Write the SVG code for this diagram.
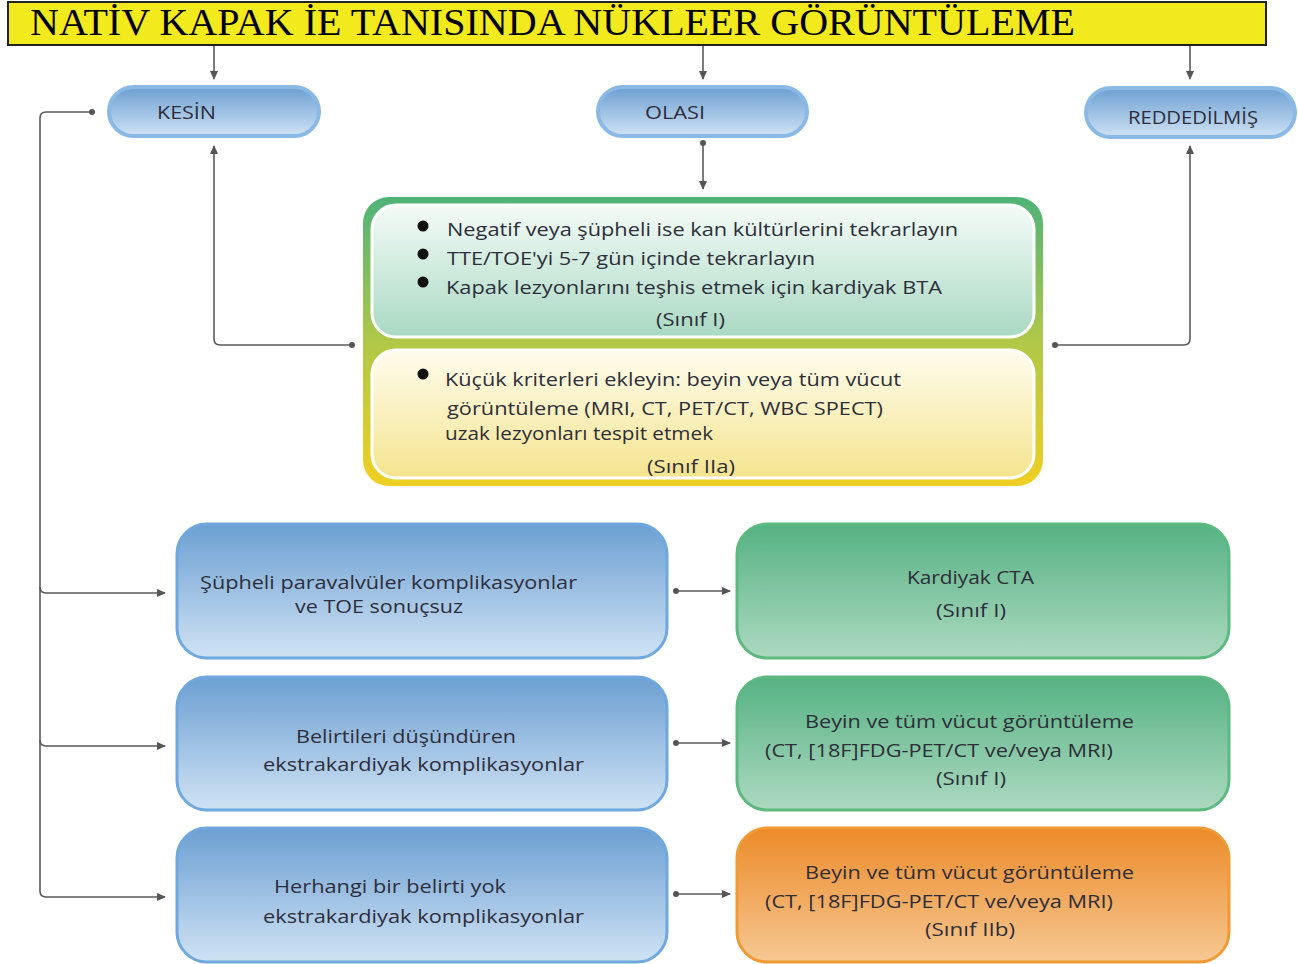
<svg xmlns="http://www.w3.org/2000/svg" width="1298" height="964" viewBox="0 0 1298 964">
<defs>
<linearGradient id="gBlue" x1="0" y1="0" x2="0" y2="1"><stop offset="0" stop-color="#6c9fd2"/><stop offset="1" stop-color="#cfe2f4"/></linearGradient>
<linearGradient id="gGreen" x1="0" y1="0" x2="0" y2="1"><stop offset="0" stop-color="#56b283"/><stop offset="1" stop-color="#acd9c0"/></linearGradient>
<linearGradient id="gOrange" x1="0" y1="0" x2="0" y2="1"><stop offset="0" stop-color="#ec8a28"/><stop offset="1" stop-color="#f6c893"/></linearGradient>
<linearGradient id="gOuter" x1="0" y1="0" x2="0" y2="1"><stop offset="0" stop-color="#4fb378"/><stop offset="0.5" stop-color="#b0c848"/><stop offset="1" stop-color="#f0cf22"/></linearGradient>
<linearGradient id="gTop" x1="0" y1="0" x2="0" y2="1"><stop offset="0" stop-color="#f4fbf7"/><stop offset="1" stop-color="#a9d9c3"/></linearGradient>
<linearGradient id="gBot" x1="0" y1="0" x2="0" y2="1"><stop offset="0" stop-color="#fffcee"/><stop offset="1" stop-color="#f4e48e"/></linearGradient>
<marker id="arr" markerWidth="10" markerHeight="10" refX="8" refY="5" orient="auto" markerUnits="userSpaceOnUse"><path d="M0,1 L9,5 L0,9 Z" fill="#555"/></marker>
<marker id="dot" markerWidth="8" markerHeight="8" refX="4" refY="4" markerUnits="userSpaceOnUse"><circle cx="4" cy="4" r="3" fill="#555"/></marker>
</defs>
<style>
.t{font-family:"Open Sans","Liberation Sans",sans-serif;font-size:19px;font-weight:500;fill:#2e2e3a}
.pill{fill:url(#gBlue);stroke:#8bb9e6;stroke-width:4}
.bbox{fill:url(#gBlue);stroke:#6fa8de;stroke-width:3}
.gbox{fill:url(#gGreen);stroke:#5cb97f;stroke-width:3}
.obox{fill:url(#gOrange);stroke:#f09a36;stroke-width:3}
.c{fill:none;stroke:#5a5a5a;stroke-width:1.6}
</style>
<rect width="1298" height="964" fill="#ffffff"/>

<g id="title">
<rect x="8" y="2" width="1258" height="43" fill="#f2ea1c" stroke="#222" stroke-width="2"/>
<text x="30" y="35" font-family="Liberation Serif, serif" font-size="37" fill="#000" textLength="1045" lengthAdjust="spacingAndGlyphs">NATİV KAPAK İE TANISINDA NÜKLEER GÖRÜNTÜLEME</text>
</g>

<g id="connectors">
<path class="c" d="M214,46 V79" marker-end="url(#arr)"/>
<path class="c" d="M703,46 V79" marker-end="url(#arr)"/>
<path class="c" d="M1190,46 V79" marker-end="url(#arr)"/>
<path class="c" d="M703,143 V189" marker-start="url(#dot)" marker-end="url(#arr)"/>
<path class="c" d="M352,345 H220 Q214,345 214,339 V146" marker-start="url(#dot)" marker-end="url(#arr)"/>
<path class="c" d="M1055,345 H1184 Q1190,345 1190,339 V146" marker-start="url(#dot)" marker-end="url(#arr)"/>
<path class="c" d="M92,112 H46 Q40,112 40,118 V891 Q40,897 46,897 H165" marker-start="url(#dot)" marker-end="url(#arr)"/>
<path class="c" d="M40,587 Q40,593 46,593 H165" marker-end="url(#arr)"/>
<path class="c" d="M40,740 Q40,746 46,746 H165" marker-end="url(#arr)"/>
<path class="c" d="M676,591 H730" marker-start="url(#dot)" marker-end="url(#arr)"/>
<path class="c" d="M676,743 H730" marker-start="url(#dot)" marker-end="url(#arr)"/>
<path class="c" d="M676,894 H730" marker-start="url(#dot)" marker-end="url(#arr)"/>
</g>

<g id="kesin">
<rect class="pill" x="109" y="87" width="210" height="49" rx="24.5"/>
<text class="t" x="157" y="119" textLength="59" lengthAdjust="spacingAndGlyphs">KESİN</text>
</g>
<g id="olasi">
<rect class="pill" x="598" y="87" width="209" height="49" rx="24.5"/>
<text class="t" x="645" y="119" textLength="60" lengthAdjust="spacingAndGlyphs">OLASI</text>
</g>
<g id="reddedilmis">
<rect class="pill" x="1086" y="88" width="209" height="49" rx="24.5"/>
<text class="t" x="1128" y="124" textLength="130" lengthAdjust="spacingAndGlyphs">REDDEDİLMİŞ</text>
</g>

<g id="center">
<rect x="363" y="197" width="680" height="289" rx="26" fill="url(#gOuter)"/>
<rect x="372" y="205" width="662" height="132" rx="24" fill="url(#gTop)" stroke="#ffffff" stroke-width="3"/>
<rect x="372" y="350" width="662" height="128" rx="24" fill="url(#gBot)" stroke="#ffffff" stroke-width="3"/>
<circle cx="423" cy="226" r="5.5" fill="#111"/>
<circle cx="423" cy="254" r="5.5" fill="#111"/>
<circle cx="423" cy="282" r="5.5" fill="#111"/>
<text class="t" x="447" y="236" textLength="511" lengthAdjust="spacingAndGlyphs">Negatif veya şüpheli ise kan kültürlerini tekrarlayın</text>
<text class="t" x="447" y="265" textLength="368" lengthAdjust="spacingAndGlyphs">TTE/TOE'yi 5-7 gün içinde tekrarlayın</text>
<text class="t" x="446" y="294" textLength="496" lengthAdjust="spacingAndGlyphs">Kapak lezyonlarını teşhis etmek için kardiyak BTA</text>
<text class="t" x="656" y="326" textLength="69" lengthAdjust="spacingAndGlyphs">(Sınıf I)</text>
<circle cx="423" cy="374" r="5.5" fill="#111"/>
<text class="t" x="445" y="386" textLength="456" lengthAdjust="spacingAndGlyphs">Küçük kriterleri ekleyin: beyin veya tüm vücut</text>
<text class="t" x="447" y="415" textLength="436" lengthAdjust="spacingAndGlyphs">görüntüleme (MRI, CT, PET/CT, WBC SPECT)</text>
<text class="t" x="445" y="440" textLength="268" lengthAdjust="spacingAndGlyphs">uzak lezyonları tespit etmek</text>
<text class="t" x="647" y="473" textLength="88" lengthAdjust="spacingAndGlyphs">(Sınıf IIa)</text>
</g>

<g id="b1">
<rect class="bbox" x="177" y="524" width="490" height="134" rx="30"/>
<text class="t" x="200" y="589" textLength="377" lengthAdjust="spacingAndGlyphs">Şüpheli paravalvüler komplikasyonlar</text>
<text class="t" x="295" y="613" textLength="168" lengthAdjust="spacingAndGlyphs">ve TOE sonuçsuz</text>
</g>
<g id="b2">
<rect class="bbox" x="177" y="677" width="490" height="133" rx="30"/>
<text class="t" x="296" y="743" textLength="220" lengthAdjust="spacingAndGlyphs">Belirtileri düşündüren</text>
<text class="t" x="263" y="771" textLength="321" lengthAdjust="spacingAndGlyphs">ekstrakardiyak komplikasyonlar</text>
</g>
<g id="b3">
<rect class="bbox" x="177" y="828" width="490" height="134" rx="30"/>
<text class="t" x="274" y="893" textLength="232" lengthAdjust="spacingAndGlyphs">Herhangi bir belirti yok</text>
<text class="t" x="263" y="923" textLength="321" lengthAdjust="spacingAndGlyphs">ekstrakardiyak komplikasyonlar</text>
</g>

<g id="g1">
<rect class="gbox" x="737" y="524" width="492" height="134" rx="30"/>
<text class="t" x="907" y="584" textLength="127" lengthAdjust="spacingAndGlyphs">Kardiyak CTA</text>
<text class="t" x="936" y="617" textLength="70" lengthAdjust="spacingAndGlyphs">(Sınıf I)</text>
</g>
<g id="g2">
<rect class="gbox" x="737" y="677" width="492" height="133" rx="30"/>
<text class="t" x="805" y="728" textLength="329" lengthAdjust="spacingAndGlyphs">Beyin ve tüm vücut görüntüleme</text>
<text class="t" x="765" y="757" textLength="348" lengthAdjust="spacingAndGlyphs">(CT, [18F]FDG-PET/CT ve/veya MRI)</text>
<text class="t" x="936" y="785" textLength="70" lengthAdjust="spacingAndGlyphs">(Sınıf I)</text>
</g>
<g id="o1">
<rect class="obox" x="737" y="828" width="492" height="134" rx="30"/>
<text class="t" x="805" y="879" textLength="329" lengthAdjust="spacingAndGlyphs">Beyin ve tüm vücut görüntüleme</text>
<text class="t" x="765" y="908" textLength="348" lengthAdjust="spacingAndGlyphs">(CT, [18F]FDG-PET/CT ve/veya MRI)</text>
<text class="t" x="925" y="936" textLength="90" lengthAdjust="spacingAndGlyphs">(Sınıf IIb)</text>
</g>
</svg>
